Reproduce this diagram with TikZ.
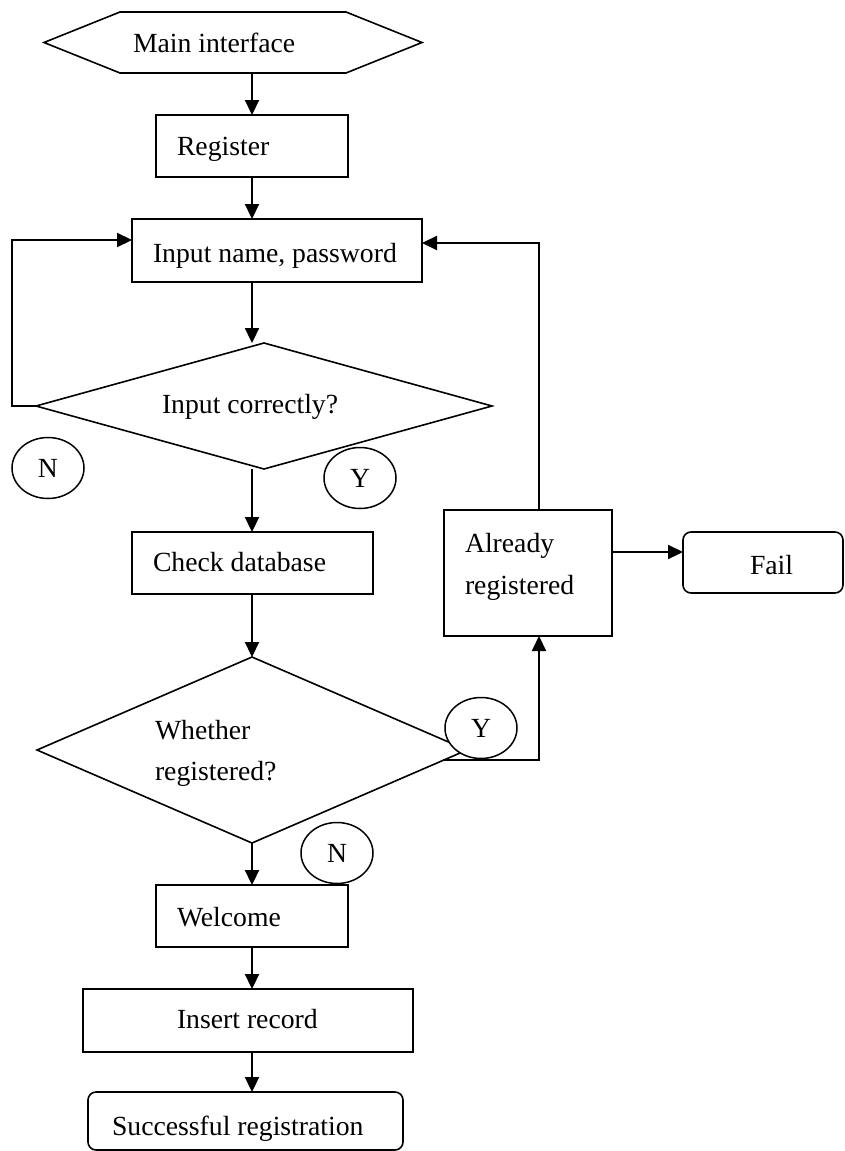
\documentclass[tikz,border=0pt]{standalone}
\usepackage{fontspec}
\setmainfont{Liberation Serif}
\usetikzlibrary{arrows.meta,shapes.geometric,calc}
\begin{document}
\begin{tikzpicture}[x=1pt,y=-1pt,
  font=\fontsize{27.7}{42}\selectfont,
  box/.style={draw,line width=1.6pt,inner sep=0pt,outer sep=0pt},
  txt/.style={inner sep=0pt,outer sep=0pt,anchor=base west},
  lbl/.style={ellipse,draw,fill=white,line width=1.5pt,inner sep=0pt,minimum width=72pt,minimum height=61pt},
  conn/.style={line width=2.2pt,-{Triangle[length=15pt,width=14pt]}},
  shapeline/.style={line width=1.6pt,line join=miter}]
\useasboundingbox (0,0) rectangle (844,1151);
% hexagon
\node[box,draw=none,minimum width=378pt,minimum height=61pt] (hex) at (233,42.5) {};
\draw[shapeline] (hex.west) -- ($(hex.north west)+(76,0)$) -- ($(hex.north east)+(-76,0)$) -- (hex.east) -- ($(hex.south east)+(-76,0)$) -- ($(hex.south west)+(76,0)$) -- cycle;
\node[txt] (maint) at (133,52) {Main interface};
% boxes
\node[box,minimum width=192pt,minimum height=62pt] (reg) at (252,146) {};
\node[txt] (regt) at (177,155) {Register};
\node[box,minimum width=290pt,minimum height=63pt] (inp) at (277,250.5) {};
\node[txt] (inpt) at (153,262) {Input name, password};
\node[diamond,box,minimum width=456pt,minimum height=126pt] (d1) at (264,406) {};
\node[txt] (d1t) at (162,413) {Input correctly?};
\node[box,minimum width=241pt,minimum height=62pt] (chk) at (252.5,563) {};
\node[txt] (chkt) at (153,571) {Check database};
\node[diamond,box,minimum width=430pt,minimum height=186pt] (d2) at (252,750) {};
\node[txt] (d2ta) at (155,739) {Whether};
\node[txt] (d2tb) at (155,780) {registered?};
\node[box,minimum width=168pt,minimum height=126pt] (alr) at (528,573) {};
\node[txt] (alrta) at (465,552) {Already};
\node[txt] (alrtb) at (465,594) {registered};
\node[box,rounded corners=8pt,minimum width=160pt,minimum height=61pt] (fail) at (763,562.5) {};
\node[txt] (failt) at (750,574) {Fail};
\node[box,minimum width=192pt,minimum height=62pt] (wel) at (252,916) {};
\node[txt] (welt) at (177,926) {Welcome};
\node[box,minimum width=330pt,minimum height=63pt] (ins) at (248,1020.5) {};
\node[txt] (inst) at (177,1028) {Insert record};
\node[box,rounded corners=8pt,minimum width=315pt,minimum height=58pt] (suc) at (245.5,1121) {};
\node[txt] (suct) at (112,1135) {Successful registration};
% connectors
\coordinate (cx) at (252,0);
\draw[conn] (hex.south -| cx) -- (reg.north -| cx);
\draw[conn] (reg.south -| cx) -- (inp.north -| cx);
\draw[conn] (inp.south -| cx) -- (d1.north -| cx);
\draw[conn] (d1.south -| cx) -- (chk.north -| cx);
\draw[conn] (chk.south -| cx) -- (d2.north -| cx);
\draw[conn] (d2.south -| cx) -- (wel.north -| cx);
\draw[conn] (wel.south -| cx) -- (ins.north -| cx);
\draw[conn] (ins.south -| cx) -- (suc.north -| cx);
\coordinate (lb) at (12,240);
\draw[conn] (d1.west) -| (lb) -- (lb -| inp.west);
\coordinate (rb) at (539,243);
\draw[conn] (alr.north -| rb) -- (rb) -- (rb -| inp.east);
\coordinate (d2p) at ($(d2.east)!0.11!(d2.south)$);
\coordinate (yb) at (539,760);
\draw[conn] (d2p) -- (d2p -| yb) -- (alr.south -| yb);
\coordinate (fa) at (612,552);
\draw[conn] (alr.east |- fa) -- (fail.west |- fa);
% Y / N labels
\node[lbl] (n1) at (48,468) {N};
\node[lbl] (y1) at (360,478) {Y};
\node[lbl] (y2) at (481,728) {Y};
\node[lbl] (n2) at (337,853) {N};
\end{tikzpicture}
\end{document}
